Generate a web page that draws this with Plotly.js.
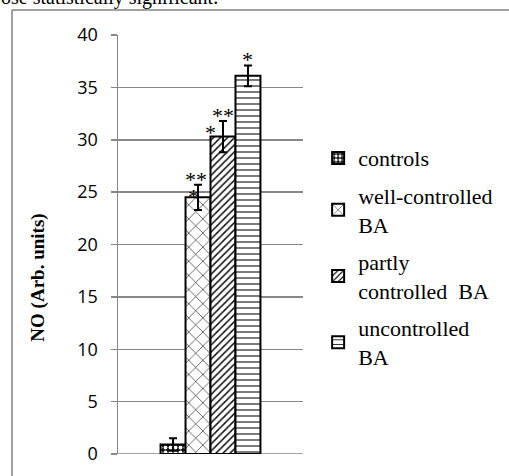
<!DOCTYPE html>
<html>
<head>
<meta charset="utf-8">
<script src="https://cdn.plot.ly/plotly-3.0.1.min.js"></script>
<style>html,body{margin:0;padding:0;background:#fff;}#chart{width:509px;height:476px;}</style>
</head>
<body>
<div id="chart"></div>
<script>
// ---- data ----
var groups = ["controls", "well-controlled<br>BA", "partly<br>controlled  BA", "uncontrolled<br>BA"];
var values = [0.9, 24.5, 30.3, 36.1];
var errors = [0.6, 1.2, 1.5, 1.0];
var stars = [["", ""], ["**", "*"], ["**", "*"], ["*", ""]];
var yTicks = [0, 5, 10, 15, 20, 25, 30, 35, 40];

var SERIF = "Liberation Serif";
var patterns = [
  {shape: ".", bgcolor: "#111", fgcolor: "#fff", size: 5, solidity: 0.45},
  {shape: "x", bgcolor: "#fff", fgcolor: "#111", size: 10, solidity: 0.12},
  {shape: "/", bgcolor: "#fff", fgcolor: "#111", size: 5, solidity: 0.3},
  {shape: "-", bgcolor: "#fff", fgcolor: "#222", size: 6, solidity: 0.2}
];

var traces = groups.map(function (g, i) {
  return {
    type: "bar",
    name: g,
    x: [0],
    y: [values[i]],
    legendgroup: "g" + i,
    marker: {color: "#fff", line: {color: "#000", width: 2}, pattern: patterns[i]},
    error_y: {type: "data", array: [errors[i]], visible: true, color: "#000", thickness: 2, width: 4},
    hoverinfo: "skip"
  };
});

// bar centre positions follow plotly's grouping
var bargap = 0.46;
var groupW = 1 - bargap;
var barW = groupW / groups.length;
function barCenter(i) { return -groupW / 2 + barW * (i + 0.5); }

var upperShiftX = [0, -2, 0, 0];
var lowerShiftX = [0, -5, -12, 0];
var annotations = [];
stars.forEach(function (s, i) {
  var top = values[i] + errors[i];
  if (s[0]) annotations.push({x: barCenter(i), y: top, xref: "x", yref: "y", text: s[0], showarrow: false,
    yanchor: "middle", xshift: upperShiftX[i], yshift: (s[1] ? 5 : 6),
    font: {family: SERIF, size: 22, color: "#000"}});
  if (s[1]) annotations.push({x: barCenter(i), y: top, xref: "x", yref: "y", text: s[1], showarrow: false,
    yanchor: "middle", xshift: lowerShiftX[i], yshift: -12,
    font: {family: SERIF, size: 22, color: "#000"}});
});

// y axis title
annotations.push({xref: "paper", yref: "paper", x: -0.43, y: 0.422, xanchor: "center", yanchor: "middle",
  text: "<b>NO (Arb. units)</b>", showarrow: false,
  textangle: -90, font: {family: SERIF, size: 19, color: "#000"}});
// clipped caption text at top
annotations.push({xref: "paper", yref: "paper", x: -0.645, y: 1.058, xanchor: "left", yanchor: "bottom",
  text: "ose statistically significant.", showarrow: false,
  font: {family: SERIF, size: 20, color: "#000"}});

var layout = {
  width: 509, height: 476,
  margin: {l: 118, r: 206, t: 35, b: 22, pad: 0},
  paper_bgcolor: "#fff", plot_bgcolor: "#fff",
  font: {family: SERIF, color: "#000"},
  barmode: "group", bargap: bargap, bargroupgap: 0,
  showlegend: true,
  legend: {xref: "container", yref: "container", x: 0.625, y: 0.712, xanchor: "left", yanchor: "top", tracegroupgap: 6,
    font: {family: SERIF, size: 22, color: "#000"},
    itemwidth: 30, bgcolor: "rgba(0,0,0,0)"},
  xaxis: {range: [-0.5, 0.5], showticklabels: false, showgrid: false, zeroline: false, showline: false, ticks: "", fixedrange: true},
  yaxis: {range: [0, 40], tickvals: yTicks, ticktext: yTicks.map(String), showgrid: true, gridcolor: "#888", gridwidth: 1.5,
    zeroline: false, showline: true, linecolor: "#888", linewidth: 1.5, ticks: "outside", ticklen: 6, tickcolor: "#888", tickwidth: 1.5,
    ticklabelstandoff: 9,
    tickfont: {family: "Open Sans", size: 18, color: "#000"}},
  annotations: annotations,
  shapes: [
    {type: "line", xref: "paper", yref: "paper", x0: -0.573, x1: 2.2, y0: 1.0597, y1: 1.0597, line: {color: "#808080", width: 1.5}},
    {type: "line", xref: "paper", yref: "paper", x0: -0.573, x1: -0.573, y0: 1.0597, y1: -0.07, line: {color: "#808080", width: 1.5}},
    {type: "line", xref: "paper", yref: "y", x0: 0, x1: 1, y0: 0, y1: 0, line: {color: "#888", width: 1.5}, layer: "below"}
  ]
};

Plotly.newPlot("chart", traces, layout, {staticPlot: true, displayModeBar: false});
</script>
</body>
</html>
